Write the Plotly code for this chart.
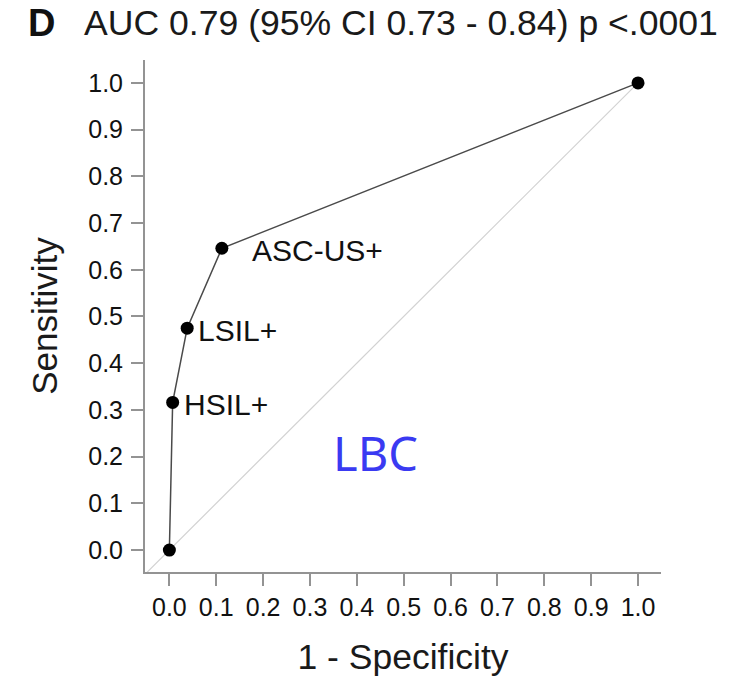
import plotly.graph_objects as go

# ROC points (1 - specificity, sensitivity)
fpr = [0.0, 0.007, 0.038, 0.112, 1.0]
tpr = [0.0, 0.316, 0.475, 0.646, 1.0]
point_labels = ["", "HSIL+", "LSIL+", "ASC-US+", ""]
label_shift = [0, 12, 12, 31, 0]

# chance line
chance = [-0.05, 1.0]

tick_vals = [round(i * 0.1, 1) for i in range(11)]
tick_text = [f"{v:.1f}" for v in tick_vals]

panel_letter = "D"
title_text = "AUC 0.79 (95% CI 0.73 - 0.84) p <.0001"
x_title = "1 - Specificity"
y_title = "Sensitivity"
group_label = "LBC"

FONT = "Liberation Sans, Arial, Helvetica, sans-serif"
AXIS_COLOR = "#939393"

fig = go.Figure()

fig.add_trace(go.Scatter(
    x=chance, y=chance, mode="lines",
    line=dict(color="#d2d2d2", width=1.2),
    hoverinfo="skip", showlegend=False,
))

fig.add_trace(go.Scatter(
    x=fpr, y=tpr, mode="lines+markers",
    line=dict(color="#4a4a4a", width=1.5),
    marker=dict(color="black", size=13),
    showlegend=False,
))

for xv, yv, lab, sh in zip(fpr, tpr, point_labels, label_shift):
    if lab:
        fig.add_annotation(
            x=xv, y=yv, xref="x", yref="y", text=lab, showarrow=False,
            xanchor="left", yanchor="middle", xshift=sh - 3, yshift=-2,
            font=dict(family=FONT, size=30, color="#111111"),
        )

fig.add_annotation(
    x=0.44, y=0.207, xref="x", yref="y", text=group_label, showarrow=False,
    xanchor="center", yanchor="middle",
    font=dict(family="Noto Sans, DejaVu Sans, sans-serif", size=47, color="#3a3af2"),
)

# panel letter and title
fig.add_annotation(
    x=-0.2305, y=1.072, xref="paper", yref="paper", text=f"<b>{panel_letter}</b>",
    showarrow=False, xanchor="left", yanchor="middle",
    font=dict(family=FONT, size=38, color="#111111"),
)
fig.add_annotation(
    x=-0.1222, y=1.072, xref="paper", yref="paper", text=title_text,
    showarrow=False, xanchor="left", yanchor="middle",
    font=dict(family=FONT, size=35.6, color="#1a1a1a"),
)

axis_common = dict(
    tickvals=tick_vals, ticktext=tick_text,
    showline=True, linecolor=AXIS_COLOR, linewidth=2,
    ticks="outside", ticklen=12, tickwidth=1.5, tickcolor=AXIS_COLOR,
    showgrid=False, zeroline=False,
    tickfont=dict(family=FONT, size=25, color="#111111"),
)

fig.update_layout(
    width=753, height=681,
    margin=dict(l=145, r=92, t=60, b=109),
    paper_bgcolor="white", plot_bgcolor="white",
    xaxis=dict(range=[-0.052, 1.049], **axis_common,
               title=dict(text=x_title, font=dict(family=FONT, size=35.5, color="#1a1a1a"), standoff=24)),
    yaxis=dict(range=[-0.047, 1.049], **axis_common, ticklabelstandoff=3,
               title=dict(text=y_title, font=dict(family=FONT, size=35, color="#1a1a1a"), standoff=20)),
)

fig.write_html("out.html")
